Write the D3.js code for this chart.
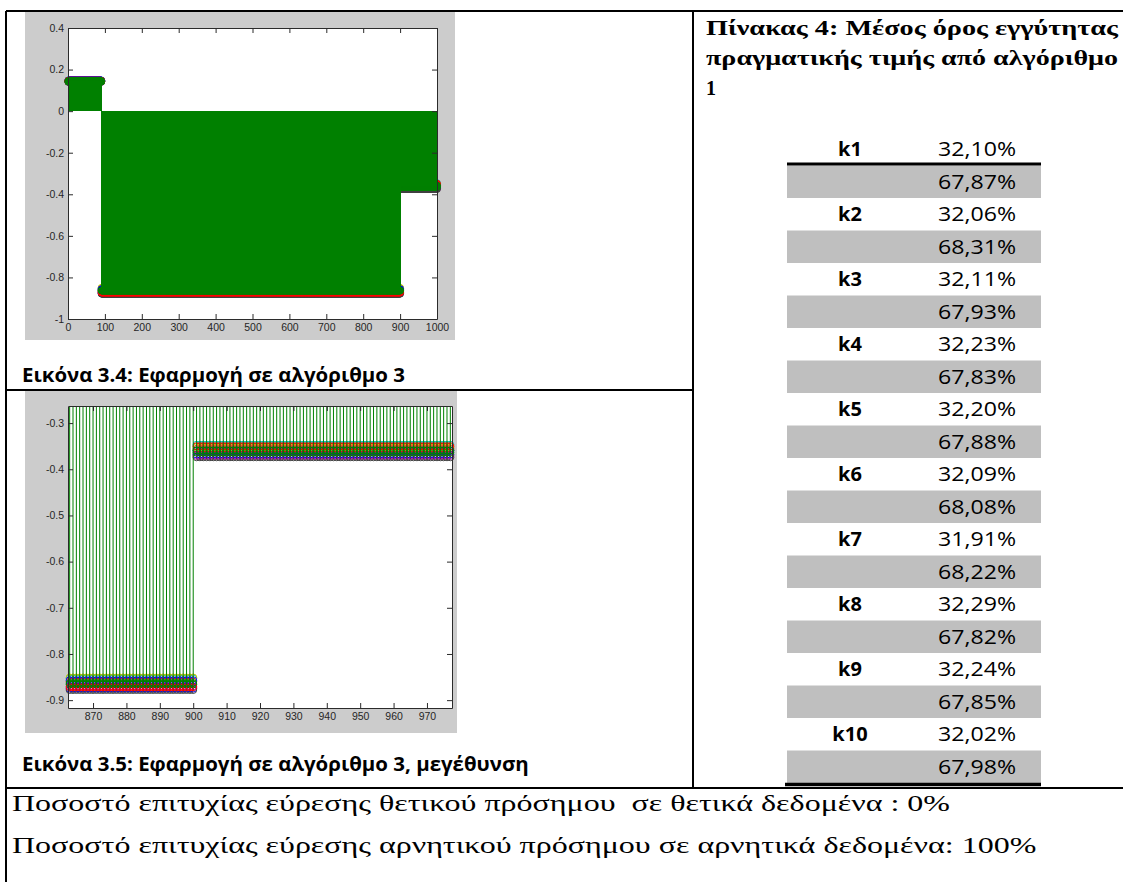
<!DOCTYPE html>
<html>
<head>
<meta charset="utf-8">
<script src="https://cdn.jsdelivr.net/npm/d3@7"></script>
<style>
  html, body { margin: 0; padding: 0; background: #ffffff; }
  svg { display: block; }
</style>
</head>
<body>
<svg id="page" width="1123" height="882"></svg>
<script>
// ---- response of algorithm 3: sample index ranges of the three output levels
const segmentFirst = [1, 91, 901];
const segmentLast  = [90, 900, 1000];

// ---- the ten runs and the level each one settles on in every range
const runs = ["k1", "k2", "k3", "k4", "k5", "k6", "k7", "k8", "k9", "k10"];
const runColors = ["#0000ff", "#ff0000", "#00bfbf", "#bf00bf", "#bfbf00",
                   "#404040", "#0000ff", "#008000", "#ff0000", "#008000"];
const levelPositive = [0.146, 0.144, 0.148, 0.142, 0.145, 0.141, 0.147, 0.143, 0.146, 0.144];
const levelNegative = [-0.875, -0.860, -0.853, -0.870, -0.851, -0.878, -0.857, -0.866, -0.872, -0.863];
const levelTail     = [-0.368, -0.356, -0.347, -0.371, -0.352, -0.374, -0.360, -0.364, -0.350, -0.359];

// ---- axes of the full view and of the close-up
const fullXDomain = [0, 1000];
const fullYDomain = [-1, 0.4];
const fullXTicks  = [0, 100, 200, 300, 400, 500, 600, 700, 800, 900, 1000];
const fullYTicks  = [-1, -0.8, -0.6, -0.4, -0.2, 0, 0.2, 0.4];
const zoomXDomain = [862.5, 977.5];
const zoomYDomain = [-0.917, -0.263];
const zoomXTicks  = [870, 880, 890, 900, 910, 920, 930, 940, 950, 960, 970];
const zoomYTicks  = [-0.9, -0.8, -0.7, -0.6, -0.5, -0.4, -0.3];

// ---- table 4
const folds = ["k1", "k2", "k3", "k4", "k5", "k6", "k7", "k8", "k9", "k10"];
const shareFirst  = [32.10, 32.06, 32.11, 32.23, 32.20, 32.09, 31.91, 32.29, 32.24, 32.02];
const shareSecond = [67.87, 68.31, 67.93, 67.83, 67.88, 68.08, 68.22, 67.82, 67.85, 67.98];

// ---- texts
const captionFull = "Εικόνα 3.4: Εφαρμογή σε αλγόριθμο 3";
const captionZoom = "Εικόνα 3.5: Εφαρμογή σε αλγόριθμο 3, μεγέθυνση";
const tableTitle = ["Πίνακας 4: Μέσος όρος εγγύτητας", "πραγματικής τιμής από αλγόριθμο", "1"];
const summaryLines = [
  "Ποσοστό επιτυχίας εύρεσης θετικού πρόσημου  σε θετικά δεδομένα : 0%",
  "Ποσοστό επιτυχίας εύρεσης αρνητικού πρόσημου σε αρνητικά δεδομένα: 100%"
];

const levels = [levelPositive, levelNegative, levelTail];
function levelAt(i, r) {
  for (let s = 0; s < segmentFirst.length; s++) {
    if (i >= segmentFirst[s] && i <= segmentLast[s]) return levels[s][r];
  }
  return null;
}

const svg = d3.select("#page");
const SANS = "'Open Sans', 'Noto Sans', sans-serif";
const SERIF = "'Liberation Serif', 'DejaVu Serif', serif";
const AXIS_FONT = "'Liberation Sans', Arial, sans-serif";

// stretch a text element horizontally to a given width
function fit(sel, width) {
  sel.attr("textLength", width).attr("lengthAdjust", "spacingAndGlyphs");
}
function naturalWidth(sel) { return sel.node().getComputedTextLength(); }

// ---------- stem plot in MATLAB style ----------
function stemPlot(cfg) {
  const g = svg.append("g");
  g.append("rect")
    .attr("x", cfg.bg[0]).attr("y", cfg.bg[1])
    .attr("width", cfg.bg[2]).attr("height", cfg.bg[3])
    .attr("fill", "#cccccc");
  const a = cfg.area;
  g.append("rect")
    .attr("x", a.x0).attr("y", a.y0)
    .attr("width", a.x1 - a.x0).attr("height", a.y1 - a.y0)
    .attr("fill", "#ffffff");

  const x = d3.scaleLinear().domain(cfg.xDomain).range([a.x0, a.x1]);
  const y = d3.scaleLinear().domain(cfg.yDomain).range([a.y1, a.y0]);

  const clipId = cfg.id + "-clip";
  g.append("clipPath").attr("id", clipId)
    .append("rect")
    .attr("x", a.x0).attr("y", a.y0)
    .attr("width", a.x1 - a.x0).attr("height", a.y1 - a.y0);

  const idx = d3.range(Math.ceil(cfg.xDomain[0]), Math.floor(cfg.xDomain[1]) + 1)
    .filter(i => i >= segmentFirst[0] && i <= segmentLast[segmentLast.length - 1]);

  const topRun = runs.length - 1;
  const marks = g.append("g");

  // markers of the runs underneath
  for (let r = 0; r < topRun; r++) {
    marks.append("g")
      .selectAll("circle")
      .data(idx)
      .join("circle")
      .attr("cx", i => x(i))
      .attr("cy", i => y(levelAt(i, r)))
      .attr("r", cfg.markerR)
      .attr("fill", "none")
      .attr("stroke", runColors[r])
      .attr("stroke-width", 1);
  }

  // stem lines of the top-most run
  const stemPath = idx.map(i => `M${x(i)},${y(0)}V${y(levelAt(i, topRun))}`).join("");
  marks.append("path")
    .attr("d", stemPath)
    .attr("clip-path", `url(#${clipId})`)
    .attr("fill", "none")
    .attr("stroke", runColors[topRun])
    .attr("stroke-width", 1)
    .attr("shape-rendering", cfg.crisp ? "crispEdges" : "auto");

  marks.append("g")
    .selectAll("circle")
    .data(idx)
    .join("circle")
    .attr("cx", i => x(i))
    .attr("cy", i => y(levelAt(i, topRun)))
    .attr("r", cfg.markerR)
    .attr("fill", "none")
    .attr("stroke", runColors[topRun])
    .attr("stroke-width", 1);

  // box with inward ticks on all four sides
  const fmt = v => String(Math.round(v * 100) / 100);
  const axisColor = "#2b2b2b";
  const style = sel => {
    sel.attr("font-family", null).attr("font-size", null);
    sel.selectAll("path.domain").attr("stroke", axisColor).attr("stroke-width", 1);
    sel.selectAll(".tick line").attr("stroke", axisColor);
    sel.selectAll(".tick text")
      .attr("fill", "#262626")
      .style("font-family", AXIS_FONT)
      .style("font-size", "10.5px");
  };
  g.append("g").attr("transform", `translate(0,${a.y1})`)
    .call(d3.axisBottom(x).tickValues(cfg.xTicks).tickSize(-5).tickSizeOuter(0).tickPadding(5).tickFormat(fmt))
    .call(style);
  g.append("g").attr("transform", `translate(0,${a.y0})`)
    .call(d3.axisTop(x).tickValues(cfg.xTicks).tickSize(-5).tickSizeOuter(0).tickFormat(""))
    .call(style);
  g.append("g").attr("transform", `translate(${a.x0},0)`)
    .call(d3.axisLeft(y).tickValues(cfg.yTicks).tickSize(-5).tickSizeOuter(0).tickPadding(4).tickFormat(fmt))
    .call(style);
  g.append("g").attr("transform", `translate(${a.x1},0)`)
    .call(d3.axisRight(y).tickValues(cfg.yTicks).tickSize(-5).tickSizeOuter(0).tickFormat(""))
    .call(style);
}

stemPlot({
  id: "full",
  bg: [25, 11, 430, 329],
  area: { x0: 68, x1: 437, y0: 28, y1: 319 },
  xDomain: fullXDomain, yDomain: fullYDomain,
  xTicks: fullXTicks, yTicks: fullYTicks,
  markerR: 3.5, crisp: true
});

stemPlot({
  id: "zoom",
  bg: [25, 391, 432, 342],
  area: { x0: 68, x1: 452, y0: 406, y1: 708 },
  xDomain: zoomXDomain, yDomain: zoomYDomain,
  xTicks: zoomXTicks, yTicks: zoomYTicks,
  markerR: 3.5, crisp: false
});

// ---------- captions under the figures ----------
const capFont = sel => sel
  .style("font-family", SANS).style("font-weight", 700).style("font-size", "19px")
  .attr("fill", "#000");
const cap1 = svg.append("text").attr("x", 22).attr("y", 382).call(capFont).text(captionFull);
const capStretch = 383 / naturalWidth(cap1);
fit(cap1, 383);
const cap2 = svg.append("text").attr("x", 22).attr("y", 771).call(capFont).text(captionZoom);
fit(cap2, naturalWidth(cap2) * capStretch);

// ---------- table title ----------
tableTitle.forEach((line, k) => {
  const t = svg.append("text")
    .attr("x", 706).attr("y", 35 + k * 30)
    .style("font-family", SERIF).style("font-weight", 700).style("font-size", "20px")
    .attr("fill", "#000").text(line);
  if (k < tableTitle.length - 1) fit(t, 412);
});

// ---------- table 4 ----------
const rowY = d3.scaleLinear().domain([0, folds.length * 2]).range([133, 783]);
const rowH = rowY(1) - rowY(0);
const pct = v => d3.format(".2f")(v).replace(".", ",") + "%";
const table = svg.append("g");
table.selectAll("rect.band")
  .data(folds)
  .join("rect")
  .attr("class", "band")
  .attr("x", 787).attr("y", (d, i) => rowY(2 * i + 1))
  .attr("width", 254).attr("height", rowH)
  .attr("fill", "#bfbfbf");
table.selectAll("text.fold")
  .data(folds)
  .join("text")
  .attr("class", "fold")
  .attr("x", 850).attr("y", (d, i) => rowY(2 * i) + 23)
  .attr("text-anchor", "middle")
  .style("font-family", SANS).style("font-weight", 700).style("font-size", "20px")
  .attr("fill", "#000").text(d => d);
const valueFont = sel => sel
  .attr("text-anchor", "end")
  .style("font-family", SANS).style("font-size", "20px")
  .attr("fill", "#000");
table.selectAll("text.first")
  .data(shareFirst)
  .join("text")
  .attr("class", "first")
  .attr("x", 1016).attr("y", (d, i) => rowY(2 * i) + 23)
  .call(valueFont).text(pct)
  .call(s => fit(s, 78));
table.selectAll("text.second")
  .data(shareSecond)
  .join("text")
  .attr("class", "second")
  .attr("x", 1016).attr("y", (d, i) => rowY(2 * i + 1) + 23)
  .call(valueFont).text(pct)
  .call(s => fit(s, 78));
table.append("line")
  .attr("x1", 787).attr("x2", 1041).attr("y1", rowY(1) - 1.5).attr("y2", rowY(1) - 1.5)
  .attr("stroke", "#000").attr("stroke-width", 3);
table.append("line")
  .attr("x1", 785).attr("x2", 1041).attr("y1", rowY(folds.length * 2) + 1.5).attr("y2", rowY(folds.length * 2) + 1.5)
  .attr("stroke", "#000").attr("stroke-width", 3.5);

// ---------- summary lines ----------
let sumStretch = 1;
summaryLines.forEach((line, k) => {
  const t = svg.append("text")
    .attr("x", 12).attr("y", 811 + k * 42)
    .style("font-family", SERIF).style("font-size", "24px")
    .style("white-space", "pre")
    .attr("fill", "#000").text(line);
  if (k === 0) sumStretch = 938 / naturalWidth(t);
  fit(t, naturalWidth(t) * sumStretch);
});

// ---------- page frame ----------
const frame = [
  [6, 11, 1123, 11],
  [6, 11, 6, 882],
  [693, 11, 693, 788],
  [6, 390, 693, 390],
  [6, 788, 1123, 788]
];
svg.append("g").selectAll("line")
  .data(frame)
  .join("line")
  .attr("x1", d => d[0]).attr("y1", d => d[1])
  .attr("x2", d => d[2]).attr("y2", d => d[3])
  .attr("stroke", "#000").attr("stroke-width", 2);
</script>
</body>
</html>
